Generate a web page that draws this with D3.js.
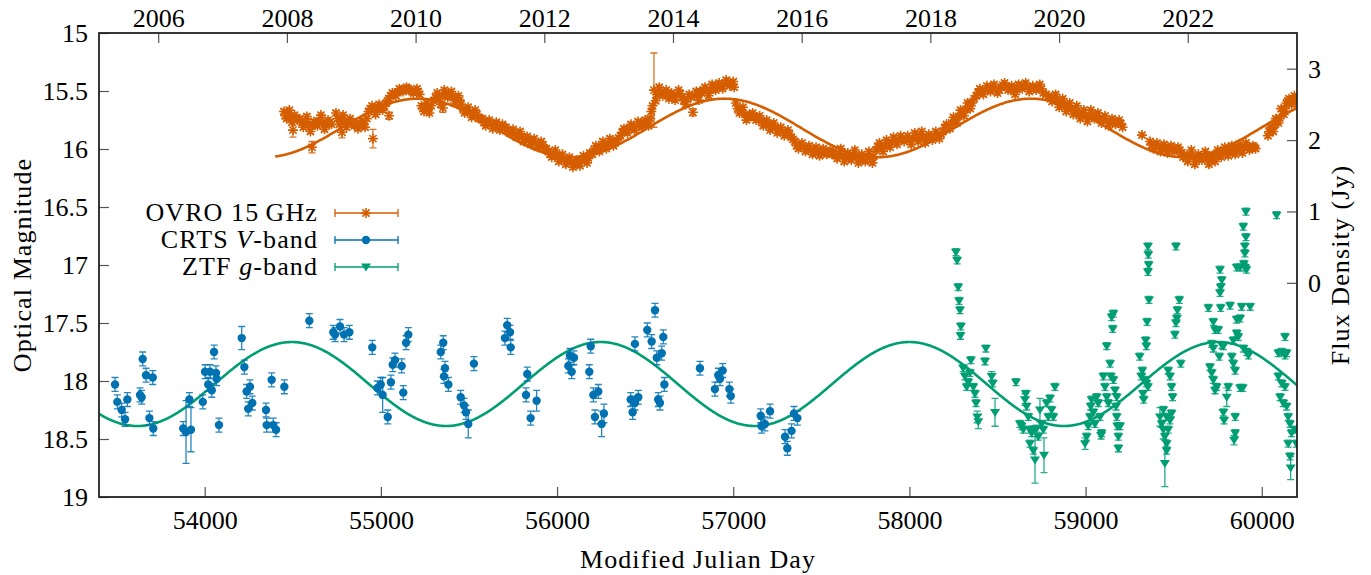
<!DOCTYPE html>
<html>
<head>
<meta charset="utf-8">
<script src="https://cdn.jsdelivr.net/npm/d3@7"></script>
<style>
  body { margin: 0; background: #fff; }
  svg text { font-family: "Liberation Serif", "DejaVu Serif", serif; fill: #000; }
</style>
</head>
<body>
<div id="chart"></div>
<script>
// OVRO 15 GHz: [MJD, flux density (Jy), error]
var ovroData = [
  [54450,2.40],[54465,2.30],[54480,2.42],[54495,2.25],[54510,2.35],[54525,2.28],[54501,2.14,0.10],
  [54457,2.34],[54472,2.36],[54487,2.33],[54502,2.30],[54517,2.31],
  [54540,2.30],[54560,2.18],[54580,2.33],[54600,2.12],[54620,2.26],[54640,2.20],[54660,2.35],[54680,2.15],
  [54700,2.28],[54720,2.22],[54609,1.90,0.08],
  [54550,2.24],[54570,2.26],[54590,2.22],[54610,2.20],[54630,2.24],[54650,2.27],[54670,2.24],[54690,2.21],[54710,2.25],
  [54745,2.38],[54765,2.22],[54785,2.35],[54805,2.18],[54825,2.30],[54779,2.11,0.08],
  [54755,2.30],[54775,2.28],[54795,2.26],[54815,2.24],[54835,2.25],
  [54850,2.20],[54870,2.16],[54890,2.27],[54910,2.18],
  [54860,2.22],[54880,2.20],[54900,2.23],[54920,2.30],
  [54930,2.40],[54950,2.48],[54970,2.36],[54990,2.50],[55010,2.42],[55030,2.52],
  [54940,2.44],[54960,2.42],[54980,2.44],[55000,2.46],[55020,2.47],[55038,2.55],
  [54955,2.02,0.13],[55047,2.34,0.05],
  [55045,2.58],[55065,2.66],[55085,2.62],[55105,2.72],[55125,2.68],[55145,2.74],[55165,2.70],[55185,2.66],
  [55205,2.72],[55220,2.64],
  [55055,2.62],[55075,2.64],[55095,2.67],[55115,2.70],[55135,2.71],[55155,2.72],[55175,2.68],[55195,2.69],[55212,2.68],
  [55230,2.48],[55245,2.40],[55260,2.52],[55275,2.38],
  [55238,2.44],[55252,2.46],[55268,2.45],[55285,2.48],
  [55300,2.55],[55320,2.66],[55340,2.50],[55360,2.70],[55380,2.60],[55400,2.68],[55420,2.52],[55440,2.62],
  [55310,2.60],[55330,2.58],[55350,2.62],[55370,2.64],[55390,2.63],[55410,2.60],[55430,2.58],[55447,2.56],
  [55352,2.45,0.06],
  [55455,2.50],[55475,2.38],[55495,2.46],[55515,2.32],[55535,2.42],[55555,2.30],
  [55465,2.44],[55485,2.42],[55505,2.39],[55525,2.37],[55545,2.36],[55565,2.30],
  [55575,2.30],[55595,2.20],[55615,2.28],[55635,2.16],[55655,2.25],[55675,2.14],[55690,2.22],
  [55585,2.25],[55605,2.24],[55625,2.22],[55645,2.20],[55665,2.19],[55682,2.18],[55700,2.17],
  [55710,2.18],[55730,2.10],[55750,2.15],[55770,2.04],[55790,2.12],[55810,1.98],[55830,2.05],[55850,1.94],
  [55870,2.02],[55890,1.90],[55910,1.98],[55930,1.88],
  [55720,2.14],[55740,2.12],[55760,2.09],[55780,2.08],[55800,2.05],[55820,2.02],[55840,2.00],[55860,1.98],
  [55880,1.96],[55900,1.94],[55920,1.93],[55940,1.88],
  [55950,1.84],[55970,1.76],[55990,1.86],[56010,1.70],[56030,1.80],[56050,1.66],[56070,1.76],[56090,1.62],
  [56110,1.72],[56130,1.64],[56150,1.78],[56170,1.68],[56185,1.82],
  [55960,1.80],[55980,1.81],[56000,1.78],[56020,1.75],[56040,1.73],[56060,1.71],[56080,1.69],[56100,1.67],
  [56120,1.68],[56140,1.71],[56160,1.73],[56178,1.75],[56192,1.81],
  [56200,1.80],[56220,1.92],[56240,1.84],[56260,1.98],[56280,1.88],[56300,2.02],[56320,1.92],[56340,2.00],
  [56210,1.86],[56230,1.88],[56250,1.91],[56270,1.93],[56290,1.95],[56310,1.97],[56330,1.96],[56350,2.03],
  [56360,2.06],[56380,2.16],[56400,2.10],[56420,2.22],[56440,2.14],[56460,2.26],[56480,2.18],[56500,2.28],
  [56520,2.20],
  [56370,2.11],[56390,2.13],[56410,2.16],[56430,2.18],[56450,2.20],[56470,2.22],[56490,2.23],[56510,2.24],[56528,2.30],
  [56535,2.40],[56550,2.70,0.52],[56560,2.55],[56580,2.74],[56600,2.62],[56620,2.70],[56635,2.58],
  [56542,2.48],[56568,2.64],[56590,2.68],[56610,2.66],[56628,2.64],[56642,2.62],
  [56650,2.66],[56670,2.56],[56690,2.70],[56710,2.60],[56730,2.50],[56750,2.64],[56771,2.39,0.05],[56790,2.68],
  [56805,2.56],
  [56660,2.61],[56680,2.63],[56700,2.65],[56720,2.55],[56740,2.57],[56760,2.60],[56780,2.62],[56798,2.64],[56812,2.68],
  [56820,2.66],[56840,2.74],[56860,2.62],[56880,2.78],[56900,2.70],[56920,2.80],[56940,2.72],[56960,2.84],
  [56980,2.76],[57000,2.82],
  [56830,2.70],[56850,2.68],[56870,2.70],[56890,2.74],[56910,2.75],[56930,2.76],[56950,2.78],[56970,2.80],
  [56990,2.79],[57005,2.74],
  [57015,2.52],[57035,2.38],[57055,2.46],[57075,2.28],[57090,2.34],
  [57025,2.44],[57045,2.42],[57065,2.36],[57083,2.32],[57100,2.33],
  [57110,2.38],[57130,2.28],[57150,2.34],[57170,2.20],[57190,2.28],[57210,2.14],[57230,2.24],[57250,2.10],
  [57270,2.18],[57290,2.06],[57310,2.14],[57330,2.04],
  [57120,2.33],[57140,2.31],[57160,2.26],[57180,2.24],[57200,2.22],[57220,2.19],[57240,2.17],[57260,2.14],
  [57280,2.12],[57300,2.10],[57320,2.08],[57340,2.01],
  [57350,1.98],[57370,1.88],[57390,1.96],[57410,1.84],[57430,1.92],[57450,1.80],[57470,1.90],[57490,1.78],
  [57510,1.88],[57530,1.80],[57550,1.86],
  [57360,1.92],[57380,1.91],[57400,1.90],[57420,1.88],[57440,1.86],[57460,1.85],[57480,1.84],[57500,1.82],
  [57520,1.83],[57540,1.82],[57560,1.80],
  [57570,1.84],[57590,1.74],[57610,1.88],[57630,1.70],[57650,1.82],[57670,1.72],[57690,1.86],[57710,1.68],
  [57730,1.80],[57750,1.70],[57770,1.84],[57790,1.68],
  [57580,1.79],[57600,1.81],[57620,1.78],[57640,1.76],[57660,1.77],[57680,1.79],[57700,1.77],[57720,1.74],
  [57740,1.75],[57760,1.77],[57780,1.76],[57798,1.77],
  [57810,1.86],[57830,1.96],[57850,1.84],[57870,2.00],[57890,1.90],[57910,2.04],[57930,1.94],[57950,2.06],
  [57970,1.98],
  [57820,1.91],[57840,1.90],[57860,1.93],[57880,1.95],[57900,1.97],[57920,1.99],[57940,2.00],[57960,2.02],[57980,2.02],
  [57990,2.06],[58010,1.94],[58030,2.10],[58050,1.98],[58070,2.12],[58090,1.96],[58110,2.08],[58130,2.00],
  [58150,2.12],[58170,2.02],
  [58000,2.00],[58020,2.02],[58040,2.04],[58060,2.05],[58080,2.04],[58100,2.02],[58120,2.04],[58140,2.06],
  [58160,2.07],[58180,2.08],
  [58190,2.12],[58210,2.22],[58230,2.16],[58250,2.32],[58270,2.24],[58290,2.42],[58310,2.34],[58330,2.52],
  [58345,2.44],
  [58200,2.17],[58220,2.19],[58240,2.24],[58260,2.28],[58280,2.33],[58300,2.38],[58320,2.43],[58338,2.48],
  [58355,2.52],[58368,2.58],
  [58380,2.62],[58400,2.72],[58420,2.64],[58440,2.76],[58460,2.68],[58480,2.78],[58500,2.66],[58520,2.74],
  [58540,2.80],[58560,2.70],[58580,2.76],[58600,2.64],[58620,2.78],[58640,2.72],[58660,2.80],[58680,2.68],
  [58700,2.76],[58720,2.70],[58740,2.78],[58760,2.66],
  [58390,2.67],[58410,2.68],[58430,2.70],[58450,2.72],[58470,2.73],[58490,2.72],[58510,2.70],[58530,2.77],
  [58550,2.75],[58570,2.73],[58590,2.70],[58610,2.71],[58630,2.75],[58650,2.76],[58670,2.74],[58690,2.72],
  [58710,2.73],[58730,2.74],[58750,2.72],[58775,2.64],
  [58790,2.62],[58810,2.54],[58830,2.64],[58850,2.46],[58870,2.58],[58890,2.40],[58910,2.52],[58930,2.36],
  [58950,2.48],[58970,2.30],[58990,2.42],[59010,2.26],
  [58800,2.58],[58820,2.59],[58840,2.55],[58860,2.52],[58880,2.49],[58900,2.46],[58920,2.44],[58940,2.42],
  [58960,2.37],[58980,2.36],[59000,2.34],[59018,2.32],
  [59030,2.42],[59050,2.30],[59070,2.38],[59090,2.24],[59110,2.34],[59130,2.20],[59150,2.30],[59170,2.22],
  [59190,2.28],[59210,2.18],
  [59040,2.36],[59060,2.34],[59080,2.31],[59100,2.29],[59120,2.27],[59140,2.25],[59160,2.26],[59180,2.25],[59200,2.23],
  [59320,2.07],
  [59365,1.98],[59385,1.88],[59405,1.96],[59425,1.84],[59445,1.94],[59465,1.82],[59485,1.92],[59505,1.84],
  [59525,1.90],[59545,1.82],
  [59375,1.93],[59395,1.92],[59415,1.90],[59435,1.89],[59455,1.88],[59475,1.87],[59495,1.88],[59515,1.87],[59535,1.86],
  [59560,1.80],[59580,1.70],[59600,1.86],[59620,1.66],[59640,1.80],[59660,1.72],[59680,1.84],[59700,1.66],
  [59720,1.78],[59735,1.70],
  [59553,1.76],[59570,1.75],[59590,1.78],[59610,1.76],[59630,1.73],[59650,1.76],[59670,1.78],[59690,1.75],
  [59710,1.72],[59728,1.74],[59742,1.78],
  [59750,1.86],[59770,1.76],[59790,1.90],[59810,1.78],[59830,1.92],[59850,1.80],[59870,1.94],[59890,1.82],
  [59910,1.96],[59930,1.86],[59950,1.92],[59965,1.88],
  [59760,1.81],[59780,1.83],[59800,1.84],[59820,1.85],[59840,1.86],[59860,1.87],[59880,1.88],[59900,1.89],
  [59920,1.91],[59940,1.89],[59958,1.90],
  [60035,2.06],[60050,2.18],[60065,2.12],[60080,2.30],[60095,2.24],[60110,2.44],[60125,2.36],[60140,2.52],
  [60155,2.58],[60170,2.50],[60185,2.62],[60195,2.56],
  [60042,2.12],[60058,2.15],[60072,2.21],[60088,2.27],[60102,2.31],[60118,2.40],[60132,2.44],[60148,2.55],
  [60162,2.54],[60178,2.57],[60190,2.53]
];

// CRTS V-band: [MJD, magnitude, error]
var crtsData = [
  [53491,18.03],[53504,18.18],[53529,18.25],[53561,18.16],[53548,18.33],[53633,18.12],[53642,18.14],
  [53648,17.81],[53667,17.95],[53705,17.97],[53686,18.32],[53708,18.41],[53878,18.41],[53894,18.44,0.27],
  [53913,18.16],[53922,18.42,0.19],[53989,18.18],[54002,17.92],[54030,17.92],[54064,17.93],[54068,17.98],
  [54020,18.03],[54040,18.08],[54053,17.75],[54081,18.38],[54210,17.63,0.10],[54225,17.88],[54238,18.09],
  [54257,18.05],[54247,18.24],[54270,18.19],[54380,17.99],[54348,18.25],[54352,18.38],[54389,18.38],
  [54405,18.42],[54452,18.05],[54594,17.48],[54730,17.58],[54740,17.60],[54768,17.53],[54791,17.60],
  [54821,17.58],[54951,17.71],[54980,18.06],[54999,18.03],[55010,18.12,0.15],[55039,18.31],[55057,18.01],
  [55067,17.86],[55080,17.82],[55118,17.87],[55127,18.10],[55143,17.67],[55156,17.60],[55340,17.75],
  [55354,17.67],[55364,17.89],[55358,17.96],[55383,18.03],[55453,18.14],[55472,18.21],[55483,18.27],
  [55496,18.37,0.12],[55528,17.85],[55704,17.63],[55717,17.52],[55737,17.71],[55733,17.58],[55831,17.94],
  [55824,18.12],[55884,18.17,0.09],[55850,18.32],[56073,17.78],[56096,17.80],[56064,17.87],[56083,17.92],
  [56191,17.70],[56183,17.92],[56206,18.12],[56234,18.09],[56215,18.31],[56266,18.28,0.08],[56253,18.37,0.11],
  [56442,17.68],[56512,17.56],[56537,17.66],[56556,17.39],[56603,17.62],[56566,17.80],[56594,17.76],
  [56609,18.03],[56418,18.16],[56442,18.19],[56461,18.14],[56429,18.27],[56574,18.16],[56584,18.19],
  [56811,17.89],[56915,17.95],[56940,17.91],[56925,17.98],[56896,18.07],[56978,18.07],[56986,18.13],
  [57156,18.30],[57180,18.37],[57209,18.26],[57161,18.39],[57294,18.48],[57331,18.43],[57307,18.58],
  [57345,18.28],[57364,18.32]
];

// ZTF g-band: [MJD, magnitude, error]
var ztfData = [
  [58264,16.89],[58271,16.96],[58277,17.19],[58282,17.31],[58287,17.39],[58292,17.53],[58290,17.61],
  [58305,17.89],[58315,17.96],[58325,18.05],[58334,18.01],[58344,17.93],[58349,17.82],[58363,18.05],
  [58372,18.11],[58378,18.19],[58385,18.31,0.05],[58391,18.35,0.06],[58434,17.72],[58429,17.83],
  [58467,17.96,0.04],[58473,18.02],[58486,18.27,0.12],[58605,18.01,0.03],
  [58627,18.37],[58637,18.39],[58646,18.42],[58656,18.16,0.05],[58661,18.11],[58665,18.22],[58675,18.31],
  [58684,18.54],[58694,18.45],[58703,18.60],[58713,18.68,0.20],[58703,18.42],[58722,18.41],[58731,18.48],
  [58741,18.25,0.10],[58750,18.37],[58760,18.42],[58764,18.64,0.15],[58779,18.19],[58788,18.31],
  [58798,18.15],[58807,18.25],[58817,18.31],[58826,18.05],[58684,18.42],
  [58997,18.54,0.05],[59006,18.48],[59015,18.39],[59025,18.31],[59029,18.22],[59034,18.16],[59044,18.27],
  [59053,18.37],[59063,18.14],[59072,18.19],[59082,18.31],[59091,18.45],[59101,17.96],[59110,18.05],
  [59120,18.14],[59129,18.19],[59120,17.70],[59139,17.85],[59143,17.96],[59148,17.45],[59154,17.55],
  [59158,17.42],[59167,18.08],[59173,18.22],[59177,18.31],[59180,18.39],[59186,18.48],[59186,18.58],
  [59158,17.99],[59177,18.14],[59196,18.39],[59088,18.47],
  [59307,17.79],[59316,17.96],[59322,17.91],[59326,18.11],[59330,18.16],[59335,17.99],[59345,18.02],
  [59354,18.05],[59345,17.70],[59341,17.65],[59349,17.49],[59360,17.30],[59354,17.06],[59358,17.00],
  [59356,16.91],[59354,16.84],
  [59422,18.31,0.08],[59432,18.37],[59441,18.42,0.08],[59450,18.48],[59460,18.54],[59469,18.42],
  [59479,18.34],[59488,18.28],[59450,18.71,0.20],[59460,18.60],[59479,17.96],[59488,18.05],[59494,18.14],
  [59469,17.91],[59460,18.31],[59441,18.25],
  [59513,16.84],[59532,17.30,0.03],[59521,17.39],[59518,17.46],[59513,17.50],[59507,17.60],[59540,17.85],
  [59697,17.37],[59763,17.04],[59773,17.13],[59767,17.19],[59763,17.24],[59767,17.37],[59725,17.49],
  [59735,17.56],[59753,17.56],[59716,17.68],[59725,17.72],[59706,17.88],[59716,17.93],[59725,17.99],
  [59735,18.08],[59744,18.05],[59759,17.79],[59773,17.69],[59782,17.70],[59782,18.27],[59786,18.34],
  [59810,18.05],[59801,18.14,0.08],[59820,17.35],[59830,17.79],[59839,17.85],[59849,17.91],[59839,17.65],
  [59858,17.59],[59867,17.62],[59849,18.31],[59849,18.45],[59843,18.51,0.04],[59858,17.47],[59877,17.46],
  [59886,17.36],[59934,17.36],[59896,17.72],[59915,17.75],[59924,17.78],[59877,18.06],[59892,18.06],
  [59910,16.54,0.03],[59895,16.67],[59910,16.76],[59904,16.84],[59904,16.90],[59898,16.99],[59904,17.02],
  [59913,17.04],[59877,17.02],[59858,17.02],[60084,16.57],
  [60132,17.62],[60094,17.76],[60113,17.75],[60132,17.78],[60141,17.76],[60094,17.96],[60113,18.02],
  [60132,18.05],[60104,18.14],[60122,18.19],[60141,18.22],[60150,18.31],[60160,18.37],[60169,18.45],
  [60150,18.54],[60160,18.65],[60164,18.75,0.10],[60188,18.42],[60197,18.54]
];

var mjdTicks = [54000, 55000, 56000, 57000, 58000, 59000, 60000];
var yearTicks = [2006, 2008, 2010, 2012, 2014, 2016, 2018, 2020, 2022];
var magTicks = [15, 15.5, 16, 16.5, 17, 17.5, 18, 18.5, 19];
var fluxTicks = [0, 1, 2, 3];

// sinusoid fits
var ovroFit = { period: 1740, peak: 56950, mean: 2.17, amp: 0.41, start: 54400 };
var optFit = { period: 1753, peak: 54494, mean: 18.026, amp: 0.362 };

var colors = { ovro: "#d55e00", crts: "#0072b2", ztf: "#009e73" };

var svgWidth = 1371, svgHeight = 575;
var margin = { top: 33, right: 74, bottom: 78, left: 99 };
var width = svgWidth - margin.left - margin.right;
var height = svgHeight - margin.top - margin.bottom;

var svg = d3.select("#chart").append("svg")
  .attr("width", svgWidth)
  .attr("height", svgHeight)
  .attr("font-family", '"Liberation Serif", serif');

var chartGroup = svg.append("g")
  .attr("transform", `translate(${margin.left}, ${margin.top})`);

var x = d3.scaleLinear().domain([53400, 60200]).range([0, width]);
var yMag = d3.scaleLinear().domain([15, 19]).range([0, height]);
var yFlux = d3.scaleLinear().domain([-3, 3.5]).range([height, 0]);
function mjdToYear(m) { return 2000 + (m - 51544.5) / 365.25; }
var xYear = d3.scaleLinear().domain([mjdToYear(53400), mjdToYear(60200)]).range([0, width]);

svg.append("defs").append("clipPath").attr("id", "clip")
  .append("rect").attr("width", width).attr("height", height);

var plot = chartGroup.append("g").attr("clip-path", "url(#clip)");

// fit curves
var ovroLine = d3.line()
  .x(d => x(d))
  .y(d => yFlux(ovroFit.mean + ovroFit.amp * Math.cos(2 * Math.PI * (d - ovroFit.peak) / ovroFit.period)));
var optLine = d3.line()
  .x(d => x(d))
  .y(d => yMag(optFit.mean - optFit.amp * Math.cos(2 * Math.PI * (d - optFit.peak) / optFit.period)));

plot.append("path")
  .attr("d", ovroLine(d3.range(ovroFit.start, 60206, 5)))
  .attr("fill", "none").attr("stroke", colors.ovro).attr("stroke-width", 2.6);
plot.append("path")
  .attr("d", optLine(d3.range(53400, 60206, 5)))
  .attr("fill", "none").attr("stroke", colors.ztf).attr("stroke-width", 2.6);

function errBars(g, data, yScale, defErr, color) {
  g.append("g").selectAll("path").data(data).enter().append("path")
    .attr("d", function(d) {
      var e = d[2] || defErr;
      var cx = x(d[0]), y1 = yScale(d[1] - e), y2 = yScale(d[1] + e);
      return `M${cx},${y1}V${y2}M${cx - 3.5},${y1}H${cx + 3.5}M${cx - 3.5},${y2}H${cx + 3.5}`;
    })
    .attr("fill", "none").attr("stroke", color).attr("stroke-width", 1.3).attr("opacity", 0.85);
}

function starPath(cx, cy) {
  var r = 5, q = 3.6;
  return `M${cx - r},${cy}H${cx + r}M${cx},${cy - r}V${cy + r}` +
    `M${cx - q},${cy - q}L${cx + q},${cy + q}M${cx - q},${cy + q}L${cx + q},${cy - q}`;
}
function triPath(cx, cy) {
  return `M${cx - 5},${cy - 3.4}L${cx + 5},${cy - 3.4}L${cx},${cy + 4.6}Z`;
}

// OVRO
errBars(plot, ovroData, yFlux, 0.03, colors.ovro);
plot.append("g").selectAll("path").data(ovroData).enter().append("path")
  .attr("d", d => starPath(x(d[0]), yFlux(d[1])))
  .attr("stroke", colors.ovro).attr("stroke-width", 1.6).attr("fill", "none");

// CRTS
errBars(plot, crtsData, yMag, 0.06, colors.crts);
plot.append("g").selectAll("circle").data(crtsData).enter().append("circle")
  .attr("cx", d => x(d[0]))
  .attr("cy", d => yMag(d[1]))
  .attr("r", 4.2)
  .attr("fill", colors.crts);

// ZTF
errBars(plot, ztfData, yMag, 0.03, colors.ztf);
plot.append("g").selectAll("path").data(ztfData).enter().append("path")
  .attr("d", d => triPath(x(d[0]), yMag(d[1])))
  .attr("fill", colors.ztf);

// axes
var fontSize = 26;
var bottomAxis = d3.axisBottom(x).tickValues(mjdTicks).tickSize(-10).tickPadding(14).tickFormat(d3.format("d"));
var topAxis = d3.axisTop(xYear).tickValues(yearTicks).tickSize(-10).tickPadding(6).tickFormat(d3.format("d"));
var leftAxis = d3.axisLeft(yMag).tickValues(magTicks).tickSize(-10).tickPadding(11).tickFormat(d => d);
var rightAxis = d3.axisRight(yFlux).tickValues(fluxTicks).tickSize(-10).tickPadding(11).tickFormat(d3.format("d"));

function styleAxis(g) {
  g.attr("font-family", null).attr("font-size", null);
  g.select(".domain").remove();
  g.selectAll(".tick line").attr("stroke", "#555").attr("stroke-width", 1.2);
  g.selectAll(".tick text").attr("font-size", fontSize).attr("fill", "#000")
    .attr("font-family", '"Liberation Serif", serif');
}

chartGroup.append("g").attr("transform", `translate(0, ${height})`).call(bottomAxis).call(styleAxis);
chartGroup.append("g").call(topAxis).call(styleAxis);
chartGroup.append("g").call(leftAxis).call(styleAxis);
chartGroup.append("g").attr("transform", `translate(${width}, 0)`).call(rightAxis).call(styleAxis);

chartGroup.append("rect")
  .attr("width", width).attr("height", height)
  .attr("fill", "none").attr("stroke", "#222").attr("stroke-width", 1.8);

// axis titles
var titleSpacing = 1.1;
svg.append("text")
  .attr("x", margin.left + width / 2).attr("y", 568)
  .attr("text-anchor", "middle").attr("font-size", fontSize).attr("letter-spacing", titleSpacing)
  .text("Modified Julian Day");
svg.append("text")
  .attr("transform", `translate(31, ${margin.top + height / 2}) rotate(-90)`)
  .attr("text-anchor", "middle").attr("font-size", fontSize).attr("letter-spacing", titleSpacing)
  .text("Optical Magnitude");
svg.append("text")
  .attr("transform", `translate(1349, ${margin.top + height / 2}) rotate(-90)`)
  .attr("text-anchor", "middle").attr("font-size", fontSize).attr("letter-spacing", titleSpacing)
  .text("Flux Density (Jy)");

// legend
var legendItems = [
  { key: "ovro", parts: [["OVRO 15\u2009GHz", false]] },
  { key: "crts", parts: [["CRTS ", false], ["V", true], ["-band", false]] },
  { key: "ztf", parts: [["ZTF ", false], ["g", true], ["-band", false]] }
];
var legend = svg.append("g");
legendItems.forEach(function(item, i) {
  var ly = 213 + i * 27;
  var t = legend.append("text")
    .attr("x", 318).attr("y", ly + 8)
    .attr("text-anchor", "end").attr("font-size", fontSize).attr("letter-spacing", titleSpacing);
  item.parts.forEach(function(p) {
    t.append("tspan").attr("font-style", p[1] ? "italic" : "normal").text(p[0]);
  });
  var c = colors[item.key];
  legend.append("path")
    .attr("d", `M335,${ly}H398M335,${ly - 4}V${ly + 4}M398,${ly - 4}V${ly + 4}`)
    .attr("stroke", c).attr("stroke-width", 1.3).attr("fill", "none");
  if (item.key === "ovro") {
    legend.append("path").attr("d", starPath(366, ly)).attr("stroke", c).attr("stroke-width", 1.6);
  } else if (item.key === "crts") {
    legend.append("circle").attr("cx", 366).attr("cy", ly).attr("r", 4.2).attr("fill", c);
  } else {
    legend.append("path").attr("d", triPath(366, ly)).attr("fill", c);
  }
});
</script>
</body>
</html>
